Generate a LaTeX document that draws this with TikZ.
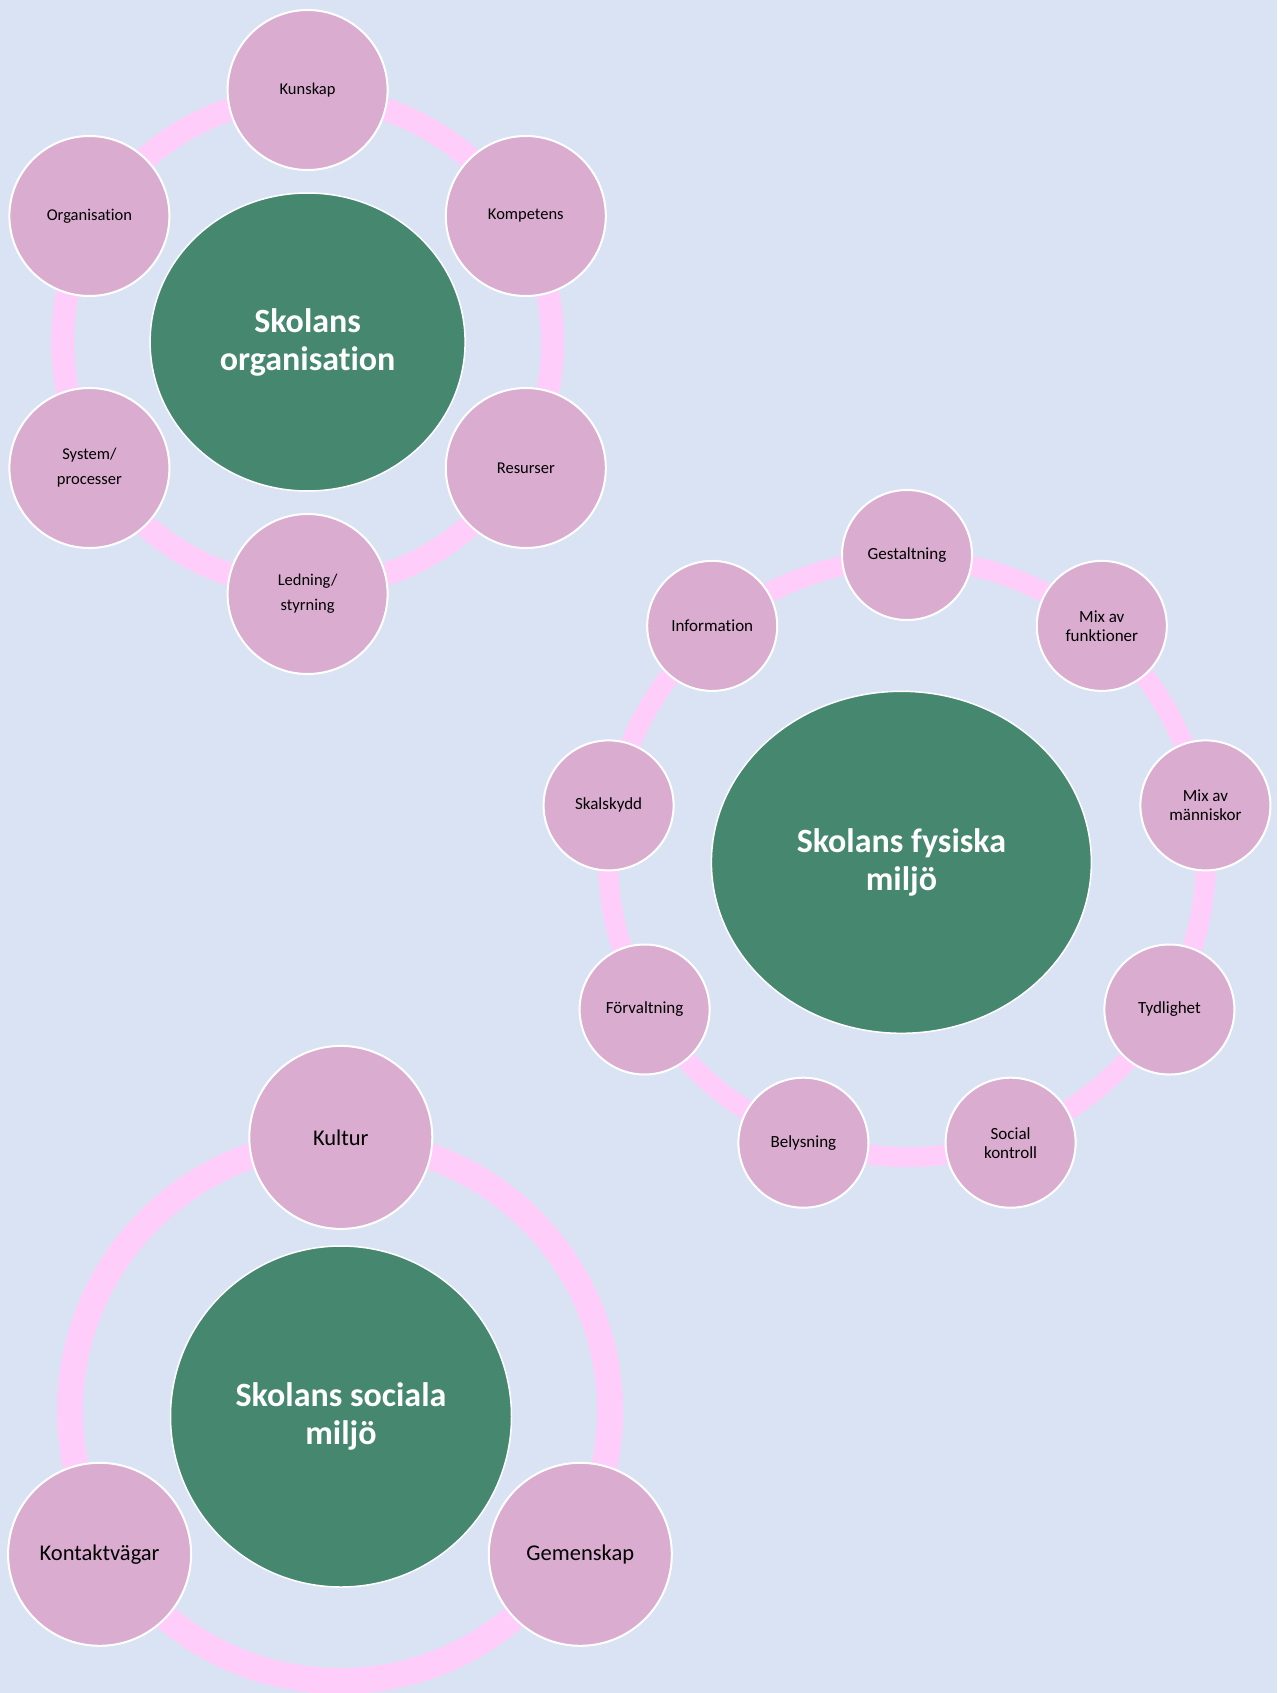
\documentclass[tikz,border=0pt]{standalone}
\usepackage{fontspec}
\setmainfont{Carlito}[RawFeature={-liga;-clig;-calt;-dlig}]
\usetikzlibrary{shapes.geometric}
\definecolor{bgc}{RGB}{218,227,243}
\definecolor{nodec}{RGB}{218,172,208}
\definecolor{ringc}{RGB}{255,205,250}
\definecolor{hubc}{RGB}{69,135,111}
\newcommand\nolig{\kern0pt}
\tikzset{
  hub/.style={ellipse, fill=hubc, draw=white, line width=1.5pt, text=white,
    font=\bfseries\fontsize{34}{38}\selectfont, align=center, inner sep=0pt},
  leaf/.style={circle, fill=nodec, draw=white, line width=2pt, inner sep=0pt,
    align=center, text=black},
  leafA/.style={leaf, minimum size=160pt, font=\fontsize{16.5}{25}\selectfont},
  leafB/.style={leaf, minimum size=130pt, font=\fontsize{17}{19}\selectfont},
  leafC/.style={leaf, minimum size=183pt, font=\fontsize{22.5}{26}\selectfont},
  ring/.style={draw=ringc}
}
\begin{document}
\begin{tikzpicture}[x=1pt,y=-1pt]
\fill[bgc] (0,0) rectangle (1277,1693);
\useasboundingbox (0,0) rectangle (1277,1693);
\clip (0,0) rectangle (1277,1693);

% ---------- Skolans organisation ----------
\coordinate (c1) at (307.6,342);
\draw[ring, line width=23pt] (c1) circle[radius=245pt];
\node[hub, minimum width=315pt, minimum height=298pt] (h1) at (c1) {Skolans\\organisat\nolig ion};
\node[leafA] (kunskap) at (307.6,90) {Kunskap};
\node[leafA] (kompetens) at (525.8,216) {Kompetens};
\node[leafA] (resurser) at (525.8,468) {Resurser};
\node[leafA] (ledning) at (307.6,594) {Ledning/\\styrning};
\node[leafA] (system) at (89.4,468) {System/\\processer};
\node[leafA] (organisation) at (89.4,216) {Organisat\nolig ion};

% ---------- Skolans fysiska miljö ----------
\coordinate (c2) at (907,858);
\draw[ring, line width=20pt] (c2) circle[radius=299pt];
\node[hub, minimum width=380pt, minimum height=342pt] (h2) at (901.4,862.3) {Skolans fysiska\\miljö};
\node[leafB] (gestaltning) at (907,555) {Gestaltning};
\node[leafB] (mixf) at (1101.8,625.9) {Mix av\\funkt\nolig ioner};
\node[leafB] (mixm) at (1205.4,805.4) {Mix av\\människor};
\node[leafB] (tydlighet) at (1169.4,1009.5) {Tydlighet};
\node[leafB] (social) at (1010.6,1142.7) {Social\\kontroll};
\node[leafB] (belysning) at (803.4,1142.7) {Belysning};
\node[leafB] (forvaltning) at (644.6,1009.5) {Förvaltning};
\node[leafB] (skalskydd) at (608.6,805.4) {Skalskydd};
\node[leafB] (information) at (712.2,625.9) {Informat\nolig ion};

% ---------- Skolans sociala miljö ----------
\coordinate (c3) at (340,1411);
\draw[ring, line width=26pt] (c3) circle[radius=270pt];
\node[hub, circle, minimum size=341pt] (h3) at (341,1416.5) {Skolans sociala\\miljö};
\node[leafC] (kultur) at (340.8,1137.4) {Kultur};
\node[leafC] (gemenskap) at (580.3,1554.3) {Gemenskap};
\node[leafC] (kontakt) at (99.6,1554.3) {Kontaktvägar};
\end{tikzpicture}
\end{document}
